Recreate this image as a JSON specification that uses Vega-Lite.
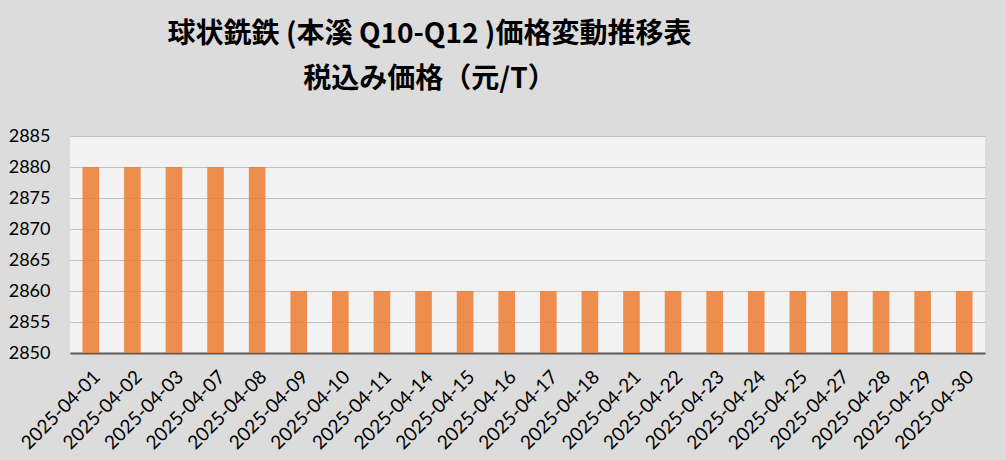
{
  "$schema": "https://vega.github.io/schema/vega-lite/v6.json",
  "width": 915,
  "height": 217,
  "autosize": {"type": "none"},
  "padding": {"left": 70, "top": 136, "right": 21, "bottom": 107},
  "background": "#dcdcdc",
  "title": {
    "text": ["球状銑鉄 (本溪 Q10-Q12 )価格変動推移表", "税込み価格（元/T）"],
    "font": "Noto Sans CJK JP",
    "fontWeight": "bold",
    "fontSize": 28,
    "color": "#000000",
    "anchor": "middle",
    "dx": -98,
    "lineHeight": 45,
    "offset": 33
  },
  "data": {
    "values": [
      {"date": "2025-04-01", "price": 2880},
      {"date": "2025-04-02", "price": 2880},
      {"date": "2025-04-03", "price": 2880},
      {"date": "2025-04-07", "price": 2880},
      {"date": "2025-04-08", "price": 2880},
      {"date": "2025-04-09", "price": 2860},
      {"date": "2025-04-10", "price": 2860},
      {"date": "2025-04-11", "price": 2860},
      {"date": "2025-04-14", "price": 2860},
      {"date": "2025-04-15", "price": 2860},
      {"date": "2025-04-16", "price": 2860},
      {"date": "2025-04-17", "price": 2860},
      {"date": "2025-04-18", "price": 2860},
      {"date": "2025-04-21", "price": 2860},
      {"date": "2025-04-22", "price": 2860},
      {"date": "2025-04-23", "price": 2860},
      {"date": "2025-04-24", "price": 2860},
      {"date": "2025-04-25", "price": 2860},
      {"date": "2025-04-27", "price": 2860},
      {"date": "2025-04-28", "price": 2860},
      {"date": "2025-04-29", "price": 2860},
      {"date": "2025-04-30", "price": 2860}
    ]
  },
  "mark": {"type": "bar", "color": "#ed7d31", "opacity": 0.85, "clip": true},
  "encoding": {
    "x": {
      "field": "date",
      "type": "ordinal",
      "sort": null,
      "scale": {"paddingInner": 0.6, "paddingOuter": 0.3},
      "axis": {
        "title": null,
        "labelAngle": -45,
        "labelFont": "Lato",
        "labelFontSize": 19,
        "labelColor": "#000000",
        "ticks": false,
        "domainColor": "#595959",
        "domainWidth": 2,
        "labelPadding": 14
      }
    },
    "y": {
      "field": "price",
      "type": "quantitative",
      "scale": {"domain": [2850, 2885], "zero": false, "nice": false},
      "axis": {
        "title": null,
        "values": [2850, 2855, 2860, 2865, 2870, 2875, 2880, 2885],
        "format": "d",
        "ticks": false,
        "domain": false,
        "labelFont": "Lato",
        "labelFontSize": 18,
        "labelColor": "#000000",
        "gridColor": "#bfbfbf",
        "labelPadding": 20
      }
    }
  },
  "config": {"view": {"fill": "#f2f2f2", "stroke": null}}
}
